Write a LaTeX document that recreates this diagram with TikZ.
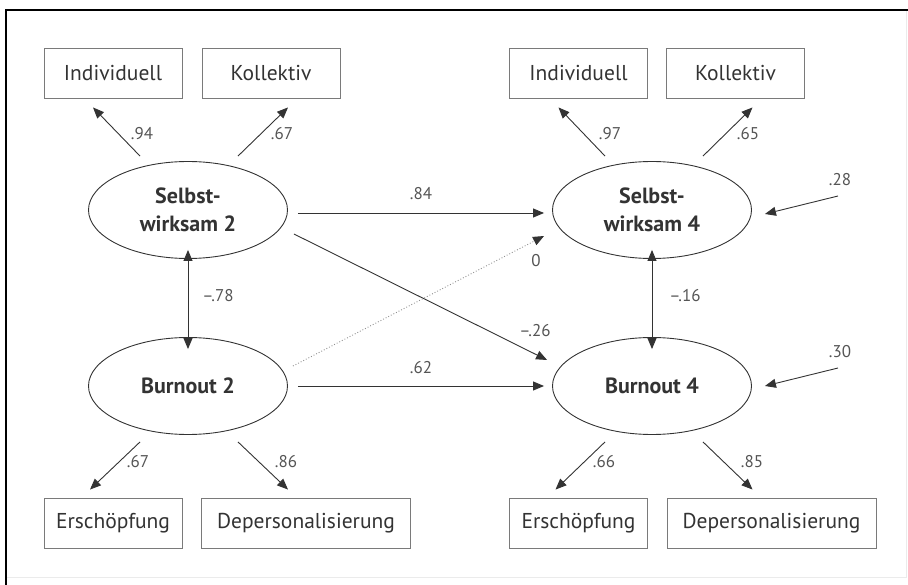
\documentclass[tikz,border=0pt]{standalone}
\usepackage{fontspec}
\setmainfont{PT Sans}
\usepackage{tikz}
\usetikzlibrary{shapes.geometric, arrows.meta, positioning}
\usetikzlibrary{calc}

\definecolor{txtgray}{HTML}{333333}
\definecolor{lblgray}{HTML}{555555}
\definecolor{boxgray}{HTML}{7A7A7A}

\begin{document}
\begin{tikzpicture}[
      x=1pt, y=-1pt,
      manifest/.style={
          rectangle,
          draw=boxgray,
          line width=0.9pt,
          align=center,
          minimum width=138pt,
          minimum height=50pt,
          inner sep=0pt,
          text=txtgray,
          font=\fontsize{21.5}{24}\selectfont
        },
      manifestwide/.style={
          manifest,
          minimum width=209pt
        },
      latent/.style={
          ellipse,
          draw=txtgray,
          line width=0.9pt,
          align=center,
          minimum width=199pt,
          minimum height=97pt,
          inner sep=0pt,
          text=txtgray,
          font=\fontsize{22}{28}\selectfont\bfseries
        },
      coef/.style={
          text=lblgray,
          inner sep=0pt,
          font=\fontsize{17}{19}\selectfont
        },
      arrow/.style={
          -{Triangle[length=11pt,width=9pt]},
          line width=0.9pt,
          draw=txtgray
        },
      dblarrow/.style={
          {Triangle[length=11pt,width=9pt]}-{Triangle[length=11pt,width=9pt]},
          line width=0.9pt,
          draw=txtgray
        },
      dotarrow/.style={
          -{Triangle[length=11pt,width=9pt,color=txtgray]},
          line width=0.9pt,
          draw=txtgray!55,
          dotted
        }
    ]

    \useasboundingbox (0,0) rectangle (908,585);

    % Frame
    \draw[black!8, line width=0.8pt] (906,10) -- (906,577) -- (6,577);
    \draw[black, line width=1.6pt] (6,585) -- (6,10) -- (908,10);

    % Nodes
    \node[latent] (sw2) at (188,210) {Selbst-\\wirksam 2};
    \node[latent] (bo2) at (188,386) {Burnout 2};
    \node[latent] (sw4) at (652,210) {Selbst-\\wirksam 4};
    \node[latent] (bo4) at (652,386) {Burnout 4};

    \node[manifest] (ind2) at (113,73) {Individuell};
    \node[manifest] (kol2) at (271,73) {Kollektiv};
    \node[manifest] (ind4) at (578.5,73) {Individuell};
    \node[manifest] (kol4) at (735.5,73) {Kollektiv};

    \node[manifest] (ers2) at (113,523) {Erschöpfung};
    \node[manifestwide] (dep2) at (306,523) {Depersonalisierung};
    \node[manifest] (ers4) at (578.5,523) {Erschöpfung};
    \node[manifestwide] (dep4) at (771.5,523) {Depersonalisierung};

    \coordinate (res1) at (838,196);
    \coordinate (res2) at (838,368);

    % Arrows
    \draw[arrow] ([shift={(-48,-5)}]sw2.north) -- ([shift={(-20,9)}]ind2.south);
    \draw[arrow] ([shift={(50,-5)}]sw2.north) -- ([shift={(17,9)}]kol2.south);
    \draw[arrow] ([shift={(-47,-5)}]sw4.north) -- ([shift={(-20,9)}]ind4.south);
    \draw[arrow] ([shift={(51,-5)}]sw4.north) -- ([shift={(17,9)}]kol4.south);

    \draw[arrow] ([shift={(-48,7)}]bo2.south) -- ([shift={(-23,-8)}]ers2.north);
    \draw[arrow] ([shift={(50,7)}]bo2.south) -- ([shift={(-18,-8)}]dep2.north);
    \draw[arrow] ([shift={(-47,7)}]bo4.south) -- ([shift={(-23,-8)}]ers4.north);
    \draw[arrow] ([shift={(51,7)}]bo4.south) -- ([shift={(-19,-8)}]dep4.north);

    \draw[arrow] ([shift={(10,3)}]sw2.east) -- ([shift={(-8,3)}]sw4.west);
    \draw[arrow] ([shift={(6,24)}]sw2.east) -- ([shift={(-5,-26)}]bo4.west);
    \draw[arrow] ([shift={(10,0)}]bo2.east) -- ([shift={(-8,0)}]bo4.west);
    \draw[dotarrow] ([shift={(5,-20)}]bo2.east) -- ([shift={(-8,26)}]sw4.west);

    \draw[dblarrow] ([yshift=9]sw2.south) -- ([yshift=-12]bo2.north);
    \draw[dblarrow] ([yshift=9]sw4.south) -- ([yshift=-12]bo4.north);

    \draw[arrow] (res1) -- ([shift={(13,4)}]sw4.east);
    \draw[arrow] (res2) -- ([shift={(13,0)}]bo4.east);

    % Coefficients
    \node[coef] (c1) at (142,134) {.94};
    \node[coef] (c2) at (282,134) {.67};
    \node[coef] (c3) at (610,134) {.97};
    \node[coef] (c4) at (748,134) {.65};
    \node[coef] (c5) at (421,194) {.84};
    \node[coef] (c6) at (840,180) {.28};
    \node[coef] (c7) at (218,296) {--.78};
    \node[coef] (c8) at (685,296) {--.16};
    \node[coef] (c9) at (536,261) {0};
    \node[coef] (c10) at (535,331) {--.26};
    \node[coef] (c11) at (421,368) {.62};
    \node[coef] (c12) at (840,352) {.30};
    \node[coef] (c13) at (138,462) {.67};
    \node[coef] (c14) at (286,462) {.86};
    \node[coef] (c15) at (604,462) {.66};
    \node[coef] (c16) at (752,462) {.85};

  \end{tikzpicture}
\end{document}
